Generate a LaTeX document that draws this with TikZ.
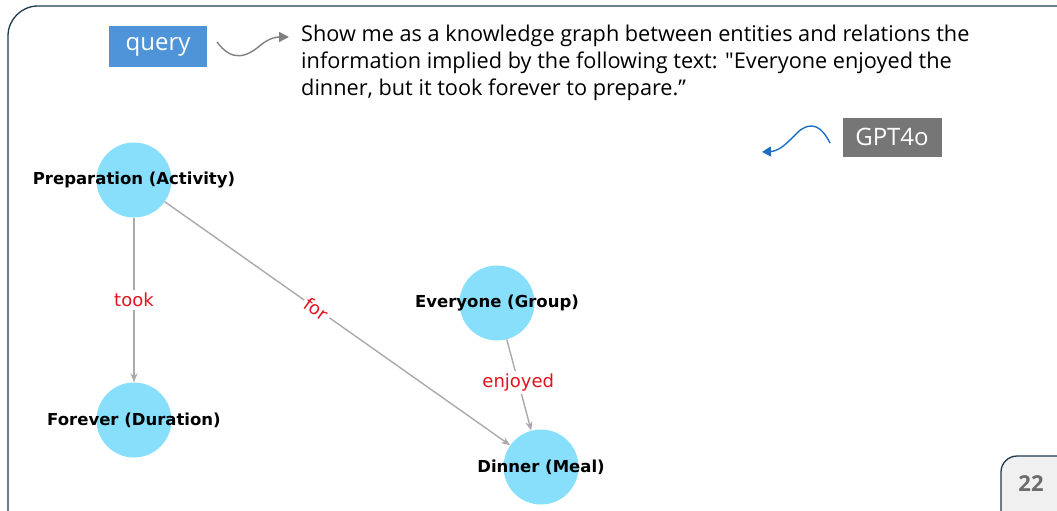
\documentclass[tikz,border=0pt]{standalone}
\usepackage{fontspec}
\setmainfont{Open Sans}[Ligatures=TeXOff]
\newfontfamily\graphfont{DejaVu Sans}
\usetikzlibrary{arrows.meta}
\definecolor{framecol}{HTML}{1F3A4D}
\definecolor{querycol}{HTML}{4F94D8}
\definecolor{gptcol}{HTML}{767676}
\definecolor{entcol}{HTML}{87DFFC}
\definecolor{edgecol}{HTML}{AAAAAA}
\definecolor{relcol}{HTML}{E0141E}
\definecolor{bluearrow}{HTML}{1A6FC0}
\begin{document}
\begin{tikzpicture}[x=1pt, y=-1pt,
    entity/.style={circle, fill=entcol, minimum size=75pt, inner sep=0pt},
    entlabel/.style={font=\graphfont\bfseries\fontsize{16.5}{18}\selectfont, text=black},
    edge/.style={draw=edgecol, line width=1.4pt, -{Stealth[length=9pt, width=7pt]}},
    relation/.style={fill=white, text=relcol, font=\graphfont\fontsize{18}{20}\selectfont, inner sep=3pt},
    tag/.style={text=white, font=\fontsize{24}{26}\selectfont, minimum height=41pt, inner sep=0pt}]

    \useasboundingbox (0,0) rectangle (1057,511);

    % Frame
    \begin{scope}
    \clip (0,0) rectangle (1057,511);
    \draw[framecol, line width=1.3pt, rounded corners=30pt] (8,540) -- (8,6) -- (1090,6);
    \draw[framecol, line width=1.3pt, fill=gray!12, rounded corners=16pt] (1001,530) rectangle (1090,456);
    \end{scope}
    \node (page) at (1031,484) {\bfseries\fontsize{22}{24}\selectfont\textcolor{gray!85!black}{22}};

    % Nodes
    \node (query) [tag, fill=querycol, minimum width=98pt] at (158,47) {query};
    \node (prompt) [anchor=north west, align=left, inner sep=0pt, font=\fontsize{21.7}{27}\selectfont] at (301,25)
        {Show me as a knowledge graph between entities and relations the\\
         information implied by the following text: "Everyone enjoyed the\\
         dinner, but it took forever to prepare.”};
    \node (gpt) [tag, fill=gptcol, minimum width=99pt, minimum height=39pt] at (892,137) {GPT4o};
    \coordinate (qin) at (217,42);
    \coordinate (qout) at (289,37);
    \coordinate (gin) at (830,143);
    \coordinate (gout) at (762,152);

    \node (prep) [entity] at (134,180) {};
    \node (forever) [entity] at (134,420) {};
    \node (everyone) [entity] at (497,303) {};
    \node (dinner) [entity] at (541,467) {};
    \node [entlabel] at (prep) {Preparation (Activity)};
    \node [entlabel] at (forever) {Forever (Duration)};
    \node [entlabel] at (everyone) {Everyone (Group)};
    \node [entlabel] at (dinner) {Dinner (Meal)};

    % Arrows
    \draw[gray, line width=1.4pt, -{Triangle[length=10pt, width=10pt]}] (qin) .. controls (232,62) and (246,58) .. (262,44) .. controls (270,38) and (276,37) .. (qout);
    \draw[bluearrow, line width=1.4pt, -{Triangle[length=9pt, width=10pt]}] (gin) .. controls (822,127) and (812,120) .. (798,132) .. controls (788,142) and (780,151) .. (gout);

    \draw[edge] (prep) -- node[relation] {took} (forever);
    \draw[edge] (prep) -- node[relation, sloped, pos=0.44] {for} (dinner);
    \draw[edge] (everyone) -- node[relation, pos=0.47] {enjoyed} (dinner);

\end{tikzpicture}
\end{document}
